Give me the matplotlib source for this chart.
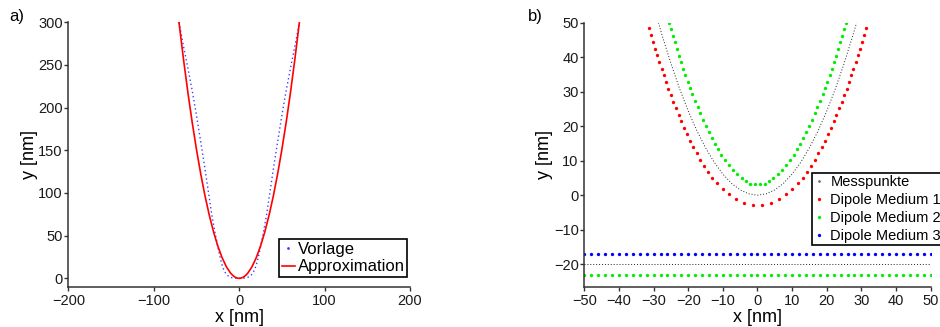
import matplotlib
matplotlib.use("Agg")
import matplotlib.pyplot as plt

plt.rcParams['font.family'] = ['Liberation Sans', 'DejaVu Sans']

# --- a) Vorlage / Approximation ---
vorlage_x = [-70.5, -65, -60, -55, -50, -45, -40, -36, -32, -28, -25, -22, -20, -18, -16, -14, -12, -10, -8, -5, 0,
             5, 8, 10, 12, 14, 16, 18, 20, 22, 25, 28, 32, 36, 40, 45, 50, 55, 60, 65, 70.5]
vorlage_y = [300, 271, 246, 220, 191, 160, 128, 101, 74, 52, 37, 23, 15.5, 10, 6.3, 3.8, 2.2, 1.2, 0.6, 0.2, 0,
             0.2, 0.6, 1.2, 2.2, 3.8, 6.3, 10, 15.5, 23, 37, 52, 74, 101, 128, 160, 191, 220, 246, 271, 300]

approx_x = [-70.5, -65, -60, -55, -50, -45, -40, -35, -30, -25, -20, -15, -10, -7.5, -5, -2.5, 0,
            2.5, 5, 7.5, 10, 15, 20, 25, 30, 35, 40, 45, 50, 55, 60, 65, 70.5]
approx_y = [300.2, 255.2, 217.4, 182.7, 151.0, 122.3, 96.6, 74.0, 54.4, 37.8, 24.2, 13.6, 6.0, 3.4, 1.5, 0.4, 0,
            0.4, 1.5, 3.4, 6.0, 13.6, 24.2, 37.8, 54.4, 74.0, 96.6, 122.3, 151.0, 182.7, 217.4, 255.2, 300.2]

# --- b) Messpunkte und Dipole ---
mess_x = [-28.6, -27.5, -25, -22.5, -20, -17.5, -15, -12.5, -10, -7.5, -5, -2.5, 0,
          2.5, 5, 7.5, 10, 12.5, 15, 17.5, 20, 22.5, 25, 27.5, 28.6]
mess_y = [50, 46.2, 38.2, 30.9, 24.4, 18.7, 13.75, 9.55, 6.11, 3.44, 1.53, 0.38, 0,
          0.38, 1.53, 3.44, 6.11, 9.55, 13.75, 18.7, 24.4, 30.9, 38.2, 46.2, 50]
mess_flat_x = [-50, 50]
mess_flat_y = [-20, -20]

dip1_x = [-31.3, -30.7, -30.2, -29.6, -29.0, -28.3, -27.7, -27.1, -26.4, -25.7, -25.1, -24.4, -23.6, -22.8, -22.1,
          -21.3, -20.4, -19.5, -18.5, -17.6, -16.5, -15.4, -14.3, -13.0, -11.6, -10.1, -8.3, -6.3, -4.0, -1.4,
          1.4, 4.0, 6.3, 8.3, 10.1, 11.6, 13.0, 14.3, 15.4, 16.5, 17.6, 18.5, 19.5, 20.4, 21.3,
          22.1, 22.8, 23.6, 24.4, 25.1, 25.7, 26.4, 27.1, 27.7, 28.3, 29.0, 29.6, 30.2, 30.7, 31.3]
dip1_y = [48.4, 46.4, 44.4, 42.5, 40.5, 38.6, 36.7, 34.7, 32.8, 30.9, 28.9, 27.1, 25.2, 23.2, 21.4,
          19.6, 17.6, 15.8, 14.0, 12.1, 10.3, 8.5, 6.7, 5.0, 3.4, 1.8, 0.2, -1.2, -2.2, -2.8,
          -2.8, -2.2, -1.2, 0.2, 1.8, 3.4, 5.0, 6.7, 8.5, 10.3, 12.1, 14.0, 15.8, 17.6, 19.6,
          21.4, 23.2, 25.2, 27.1, 28.9, 30.9, 32.8, 34.7, 36.7, 38.6, 40.5, 42.5, 44.4, 46.4, 48.4]

dip2_x = [-25.5, -25.1, -24.5, -23.9, -23.3, -22.8, -22.2, -21.5, -20.8, -20.2, -19.5, -18.8, -18.0, -17.3, -16.5,
          -15.7, -15.0, -14.1, -13.2, -12.4, -11.4, -10.4, -9.4, -8.3, -7.1, -5.8, -4.6, -3.3, -2.1, -0.7,
          0.7, 2.1, 3.3, 4.6, 5.8, 7.1, 8.3, 9.4, 10.4, 11.4, 12.4, 13.2, 14.1, 15.0, 15.7,
          16.5, 17.3, 18.0, 18.8, 19.5, 20.2, 20.8, 21.5, 22.2, 22.8, 23.3, 23.9, 24.5, 25.1, 25.5]
dip2_y = [50.0, 48.1, 46.1, 44.3, 42.4, 40.4, 38.6, 36.7, 34.7, 32.9, 31.1, 29.2, 27.4, 25.5, 23.7,
          21.9, 20.2, 18.4, 16.7, 14.9, 13.3, 11.7, 10.2, 8.7, 7.3, 6.0, 4.9, 4.0, 3.3, 3.2,
          3.2, 3.3, 4.0, 4.9, 6.0, 7.3, 8.7, 10.2, 11.7, 13.3, 14.9, 16.7, 18.4, 20.2, 21.9,
          23.7, 25.5, 27.4, 29.2, 31.1, 32.9, 34.7, 36.7, 38.6, 40.4, 42.4, 44.3, 46.1, 48.1, 50.0]

# dipole rows along the flat surface (every 2 nm)
row_x = list(range(-50, 51, 2))
row2_y = [-23] * len(row_x)
row3_y = [-17] * len(row_x)

axcol = '#333333'


def style(ax):
    for s in ('top', 'right'):
        ax.spines[s].set_visible(False)
    for s in ('left', 'bottom'):
        ax.spines[s].set_color(axcol)
        ax.spines[s].set_linewidth(1.1)
    ax.tick_params(axis='both', direction='out', length=3, width=1, color=axcol,
                   labelsize=10.5, labelcolor='#1a1a1a')
    ax.tick_params(axis='y', pad=1)
    ax.tick_params(axis='x', pad=2)


fig = plt.figure(figsize=(9.4, 3.27), dpi=100)

# panel a
ax1 = fig.add_axes([0.0727, 0.1214, 0.3635, 0.8104])
ax1.plot(vorlage_x, vorlage_y, color='#4040ff', lw=1.0, ls=(0, (1, 2)))
ax1.plot([], [], ls='none', marker='.', ms=2, color='#4040ff', label='Vorlage')
ax1.plot(approx_x, approx_y, color='red', lw=1.2, label='Approximation')
ax1.set_xlim(-200, 200)
ax1.set_ylim(-10.5, 300)
ax1.set_xticks([-200, -100, 0, 100, 200])
ax1.set_yticks([0, 50, 100, 150, 200, 250, 300])
style(ax1)
ax1.set_xlabel('x [nm]', fontsize=13)
ax1.set_ylabel('y [nm]', fontsize=13)
ax1.xaxis.label.set_va('center')
ax1.yaxis.label.set_va('center')
ax1.xaxis.set_label_coords(0.5, -0.113)
ax1.yaxis.set_label_coords(-0.114, 0.5)
leg1 = ax1.legend(loc='upper left', bbox_to_anchor=(0.6175, 0.181), borderaxespad=0,
                  fontsize=12, handlelength=0.8, handletextpad=0.15, borderpad=0.15,
                  labelspacing=0.15, fancybox=False, framealpha=1, edgecolor='black', numpoints=1)
leg1.get_frame().set_linewidth(1.2)

# panel b
ax2 = fig.add_axes([0.6216, 0.1214, 0.3685, 0.8092])
ax2.plot(mess_x, mess_y, color='#222222', lw=0.7, ls=(0, (1, 2)))
ax2.plot(mess_flat_x, mess_flat_y, color='#222222', lw=0.7, ls=(0, (1, 2)))
ax2.plot([], [], ls='none', marker='.', ms=2, color='#777777', label='Messpunkte')
ax2.plot(dip1_x, dip1_y, ls='none', marker='o', ms=2.4, mec='none', color='#ff0000', label='Dipole Medium 1')
ax2.plot(dip2_x, dip2_y, ls='none', marker='o', ms=2.4, mec='none', color='#00ee00', label='Dipole Medium 2')
ax2.plot(row_x, row2_y, ls='none', marker='o', ms=2.4, mec='none', color='#00ee00')
ax2.plot(row_x, row3_y, ls='none', marker='o', ms=2.4, mec='none', color='#0000ff', label='Dipole Medium 3')
ax2.set_xlim(-50, 50)
ax2.set_ylim(-26.7, 50)
ax2.set_xticks(range(-50, 51, 10))
ax2.set_yticks(range(-20, 51, 10))
style(ax2)
ax2.set_xlabel('x [nm]', fontsize=13)
ax2.set_ylabel('y [nm]', fontsize=13)
ax2.xaxis.label.set_va('center')
ax2.yaxis.label.set_va('center')
ax2.xaxis.set_label_coords(0.4986, -0.113)
ax2.yaxis.set_label_coords(-0.1135, 0.5)
leg2 = ax2.legend(loc='upper left', bbox_to_anchor=(0.658, 0.433), borderaxespad=0,
                  fontsize=10.5, handlelength=0.6, handletextpad=0.5, borderpad=0.15,
                  labelspacing=0.28, fancybox=False, framealpha=1, edgecolor='black', numpoints=1)
leg2.get_frame().set_linewidth(1.2)

fig.text(0.0179, 0.949, 'a)', fontsize=12, ha='center', va='center')
fig.text(0.5695, 0.949, 'b)', fontsize=12, ha='center', va='center')

fig.savefig('out.png', dpi=100)
